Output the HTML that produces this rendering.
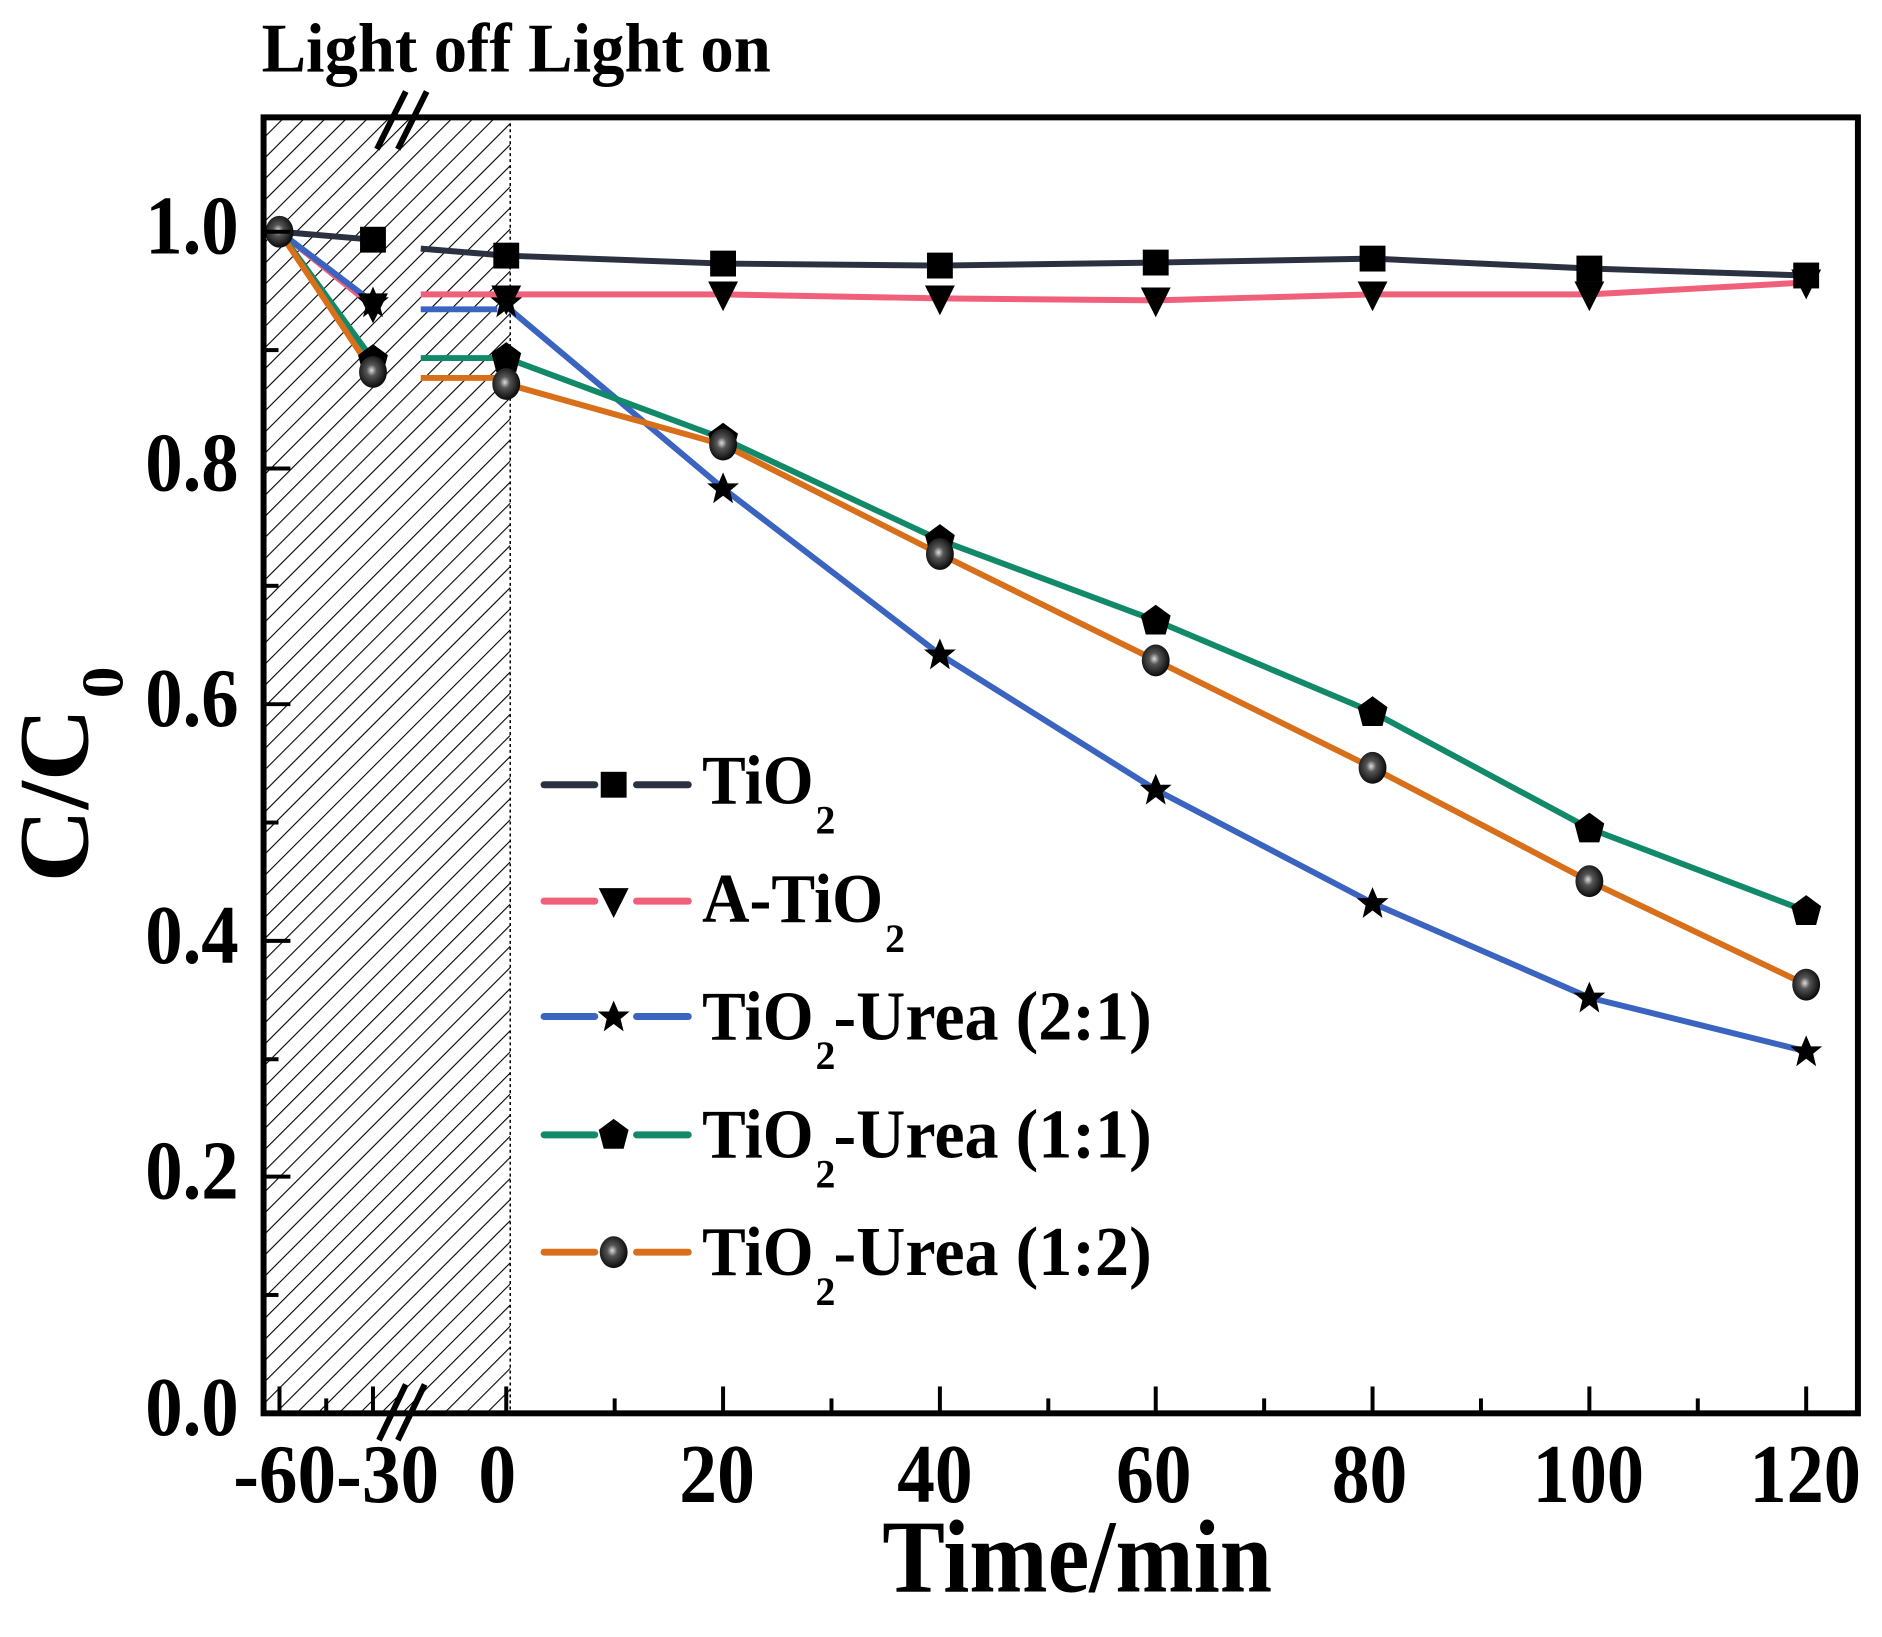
<!DOCTYPE html>
<html><head><meta charset="utf-8"><style>
html,body{margin:0;padding:0;background:#fff;}
svg{display:block;}
text{font-family:"Liberation Serif",serif;font-weight:bold;fill:#000;}
</style></head><body>
<svg width="1882" height="1637" viewBox="0 0 1882 1637" xmlns="http://www.w3.org/2000/svg">
<defs>
<pattern id="h" patternUnits="userSpaceOnUse" width="15" height="15" patternTransform="rotate(45)">
<line x1="0" y1="0" x2="0" y2="15" stroke="#000" stroke-width="2.2"/>
</pattern>
<radialGradient id="sph" cx="0.45" cy="0.45" r="0.6">
<stop offset="0" stop-color="#ddd"/><stop offset="0.3" stop-color="#555"/><stop offset="1" stop-color="#000"/>
</radialGradient>
<g id="sq"><rect x="-13" y="-13" width="26" height="26" fill="#000"/></g>
<g id="tri"><polygon points="-15,-13 15,-13 0,17" fill="#000"/></g>
<g id="star"><polygon points="0,-16 4.7,-5 16,-5 7,2.5 10,15 0,7.5 -10,15 -7,2.5 -16,-5 -4.7,-5" fill="#000"/></g>
<g id="pent"><polygon points="0,-16 15,-5 10,14 -10,14 -15,-5" fill="#000"/></g>
<g id="ball"><ellipse cx="0" cy="0" rx="14" ry="16" fill="url(#sph)"/></g>
</defs>
<g transform="scale(0.9946)">
<!-- hatch -->
<rect x="265" y="118" width="248" height="1303" fill="url(#h)"/>
<line x1="513" y1="118" x2="513" y2="1421" stroke="#000" stroke-width="1.5" stroke-dasharray="3,3"/>

<!-- series lines -->
<g fill="none" stroke-width="6" stroke-linejoin="round">
<polyline stroke="#2b3140" points="281,233 375,241"/>
<polyline stroke="#2b3140" points="423,250 509,257 727,265 945,267 1162,264 1380,260 1598,270 1816,277"/>
<polyline stroke="#f0607a" points="281,233 375,308"/>
<polyline stroke="#f0607a" points="423,296 509,296 727,296 945,300 1162,302 1380,296 1598,296 1816,284"/>
<polyline stroke="#3a64c0" points="281,233 375,304"/>
<polyline stroke="#3a64c0" points="423,311 500,311"/>
<polyline stroke="#3a64c0" points="509,308 727,491 945,658 1162,794 1380,908 1598,1003 1816,1057"/>
<polyline stroke="#128a6a" points="281,233 375,362"/>
<polyline stroke="#128a6a" points="423,360 500,360"/>
<polyline stroke="#128a6a" points="509,360 727,441 945,543 1162,624 1380,716 1598,833 1816,916"/>
<polyline stroke="#d86f1a" points="281,233 375,374"/>
<polyline stroke="#d86f1a" points="423,380 500,380"/>
<polyline stroke="#d86f1a" points="509,386 727,447 945,557 1162,664 1380,772 1598,886 1816,990"/>
</g>

<!-- markers -->
<g>
<use href="#sq" x="375" y="241"/><use href="#sq" x="509" y="257"/><use href="#sq" x="727" y="265"/><use href="#sq" x="945" y="267"/><use href="#sq" x="1162" y="264"/><use href="#sq" x="1380" y="260"/><use href="#sq" x="1598" y="270"/><use href="#sq" x="1816" y="277"/>
<use href="#tri" x="375" y="308"/><use href="#tri" x="509" y="300"/><use href="#tri" x="727" y="296"/><use href="#tri" x="945" y="300"/><use href="#tri" x="1162" y="302"/><use href="#tri" x="1380" y="296"/><use href="#tri" x="1598" y="296"/><use href="#tri" x="1816" y="284"/>
<use href="#star" x="375" y="304"/><use href="#star" x="509" y="304"/><use href="#star" x="727" y="491"/><use href="#star" x="945" y="658"/><use href="#star" x="1162" y="794"/><use href="#star" x="1380" y="908"/><use href="#star" x="1598" y="1003"/><use href="#star" x="1816" y="1057"/>
<use href="#pent" x="375" y="362"/><use href="#pent" x="509" y="360"/><use href="#pent" x="727" y="441"/><use href="#pent" x="945" y="543"/><use href="#pent" x="1162" y="624"/><use href="#pent" x="1380" y="716"/><use href="#pent" x="1598" y="833"/><use href="#pent" x="1816" y="916"/>
<use href="#ball" x="281" y="233"/><use href="#ball" x="375" y="374"/><use href="#ball" x="509" y="386"/><use href="#ball" x="727" y="447"/><use href="#ball" x="945" y="557"/><use href="#ball" x="1162" y="664"/><use href="#ball" x="1380" y="772"/><use href="#ball" x="1598" y="886"/><use href="#ball" x="1816" y="990"/>
</g>

<!-- frame -->
<rect x="265" y="118" width="1603" height="1303" fill="none" stroke="#000" stroke-width="6"/>

<!-- y ticks -->
<g stroke="#000" stroke-width="4">
<line x1="265" y1="1421" x2="292" y2="1421"/><line x1="265" y1="1302" x2="280" y2="1302"/>
<line x1="265" y1="1183" x2="292" y2="1183"/><line x1="265" y1="1065" x2="280" y2="1065"/>
<line x1="265" y1="946" x2="292" y2="946"/><line x1="265" y1="827" x2="280" y2="827"/>
<line x1="265" y1="708" x2="292" y2="708"/><line x1="265" y1="589" x2="280" y2="589"/>
<line x1="265" y1="471" x2="292" y2="471"/><line x1="265" y1="352" x2="280" y2="352"/>
<line x1="265" y1="233" x2="292" y2="233"/>
</g>
<!-- x ticks -->
<g stroke="#000" stroke-width="4">
<line x1="281" y1="1421" x2="281" y2="1394"/><line x1="328" y1="1421" x2="328" y2="1406"/>
<line x1="375" y1="1421" x2="375" y2="1394"/><line x1="509" y1="1421" x2="509" y2="1394"/>
<line x1="618" y1="1421" x2="618" y2="1406"/><line x1="727" y1="1421" x2="727" y2="1394"/>
<line x1="836" y1="1421" x2="836" y2="1406"/><line x1="945" y1="1421" x2="945" y2="1394"/>
<line x1="1054" y1="1421" x2="1054" y2="1406"/><line x1="1162" y1="1421" x2="1162" y2="1394"/>
<line x1="1271" y1="1421" x2="1271" y2="1406"/><line x1="1380" y1="1421" x2="1380" y2="1394"/>
<line x1="1489" y1="1421" x2="1489" y2="1406"/><line x1="1598" y1="1421" x2="1598" y2="1394"/>
<line x1="1707" y1="1421" x2="1707" y2="1406"/><line x1="1816" y1="1421" x2="1816" y2="1394"/>
</g>

<!-- axis breaks -->
<g stroke="#000" stroke-width="6">
<line x1="379" y1="150" x2="408" y2="92"/><line x1="400" y1="150" x2="429" y2="92"/>
<line x1="381" y1="1448" x2="408" y2="1392"/><line x1="400" y1="1448" x2="427" y2="1392"/>
</g>

<!-- y tick labels -->
<g font-size="84" text-anchor="end">
<text x="240" y="1443" textLength="94" lengthAdjust="spacingAndGlyphs">0.0</text>
<text x="240" y="1205" textLength="94" lengthAdjust="spacingAndGlyphs">0.2</text>
<text x="240" y="968" textLength="94" lengthAdjust="spacingAndGlyphs">0.4</text>
<text x="240" y="730" textLength="94" lengthAdjust="spacingAndGlyphs">0.6</text>
<text x="240" y="493" textLength="94" lengthAdjust="spacingAndGlyphs">0.8</text>
<text x="240" y="255" textLength="94" lengthAdjust="spacingAndGlyphs">1.0</text>
</g>
<!-- x tick labels -->
<g font-size="84" text-anchor="middle">
<text x="338" y="1510" textLength="207" lengthAdjust="spacingAndGlyphs">-60-30</text>
<text x="500" y="1510" textLength="38" lengthAdjust="spacingAndGlyphs">0</text>
<text x="721" y="1510" textLength="76" lengthAdjust="spacingAndGlyphs">20</text>
<text x="940" y="1510" textLength="76" lengthAdjust="spacingAndGlyphs">40</text>
<text x="1160" y="1510" textLength="76" lengthAdjust="spacingAndGlyphs">60</text>
<text x="1377" y="1510" textLength="76" lengthAdjust="spacingAndGlyphs">80</text>
<text x="1597" y="1510" textLength="112" lengthAdjust="spacingAndGlyphs">100</text>
<text x="1815" y="1510" textLength="112" lengthAdjust="spacingAndGlyphs">120</text>
</g>

<text x="887" y="1600" font-size="104" textLength="392" lengthAdjust="spacingAndGlyphs">Time/min</text>
<text x="263" y="72" font-size="70" textLength="512" lengthAdjust="spacingAndGlyphs">Light off Light on</text>

<!-- y title -->
<g transform="translate(88,887) rotate(-90)">
<text x="0" y="0" font-size="100" textLength="175" lengthAdjust="spacingAndGlyphs">C/C</text>
<text x="185" y="35" font-size="60" textLength="32" lengthAdjust="spacingAndGlyphs">0</text>
</g>

<!-- legend -->
<g stroke-width="7" stroke-linecap="round">
<line x1="547" y1="789" x2="598" y2="789" stroke="#2b3140"/><line x1="640" y1="789" x2="692" y2="789" stroke="#2b3140"/>
<line x1="547" y1="906" x2="598" y2="906" stroke="#f0607a"/><line x1="640" y1="906" x2="692" y2="906" stroke="#f0607a"/>
<line x1="547" y1="1022" x2="598" y2="1022" stroke="#3a64c0"/><line x1="640" y1="1022" x2="692" y2="1022" stroke="#3a64c0"/>
<line x1="547" y1="1141" x2="598" y2="1141" stroke="#128a6a"/><line x1="640" y1="1141" x2="692" y2="1141" stroke="#128a6a"/>
<line x1="547" y1="1259" x2="598" y2="1259" stroke="#d86f1a"/><line x1="640" y1="1259" x2="692" y2="1259" stroke="#d86f1a"/>
</g>
<use href="#sq" x="617" y="789"/><use href="#tri" x="617" y="906"/><use href="#star" x="617" y="1022"/><use href="#pent" x="617" y="1141"/><use href="#ball" x="617" y="1259"/>
<g font-size="70">
<text x="706" y="808" textLength="112" lengthAdjust="spacingAndGlyphs">TiO</text><text x="820" y="838" font-size="40">2</text>
<text x="706" y="927" textLength="182" lengthAdjust="spacingAndGlyphs">A-TiO</text><text x="890" y="957" font-size="40">2</text>
<text x="706" y="1045" textLength="112" lengthAdjust="spacingAndGlyphs">TiO</text><text x="820" y="1075" font-size="40">2</text><text x="838" y="1045" textLength="320" lengthAdjust="spacingAndGlyphs">-Urea (2:1)</text>
<text x="706" y="1164" textLength="112" lengthAdjust="spacingAndGlyphs">TiO</text><text x="820" y="1194" font-size="40">2</text><text x="838" y="1164" textLength="320" lengthAdjust="spacingAndGlyphs">-Urea (1:1)</text>
<text x="706" y="1282" textLength="112" lengthAdjust="spacingAndGlyphs">TiO</text><text x="820" y="1312" font-size="40">2</text><text x="838" y="1282" textLength="320" lengthAdjust="spacingAndGlyphs">-Urea (1:2)</text>
</g>
</g>
</svg>
</body></html>
